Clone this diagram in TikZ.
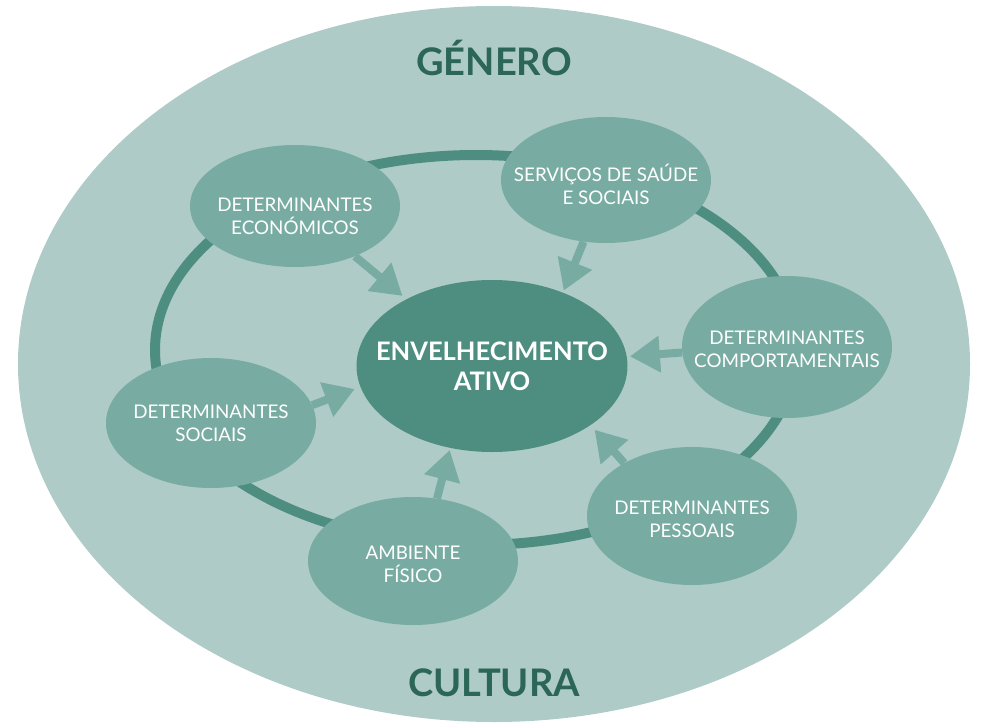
\documentclass[tikz,border=0pt]{standalone}
\usepackage{fontspec}
\setmainfont{Lato}
\usetikzlibrary{shapes.geometric,arrows.meta}
\definecolor{outerc}{HTML}{AECBC7}
\definecolor{satc}{HTML}{78ACA3}
\definecolor{centc}{HTML}{4E8E80}
\definecolor{titc}{HTML}{2B6656}
\begin{document}
\begin{tikzpicture}[x=1pt,y=-1pt,
  sat/.style={ellipse, fill=satc, inner sep=0pt, minimum width=210pt},
  lbl/.style={text=white, align=center, inner sep=0pt, font=\fontsize{18.8}{23}\selectfont},
  cent/.style={ellipse, fill=centc, inner sep=0pt, minimum width=271pt, minimum height=172pt},
  clbl/.style={text=white, align=center, inner sep=0pt, font=\fontsize{25.5}{30}\bfseries},
  title/.style={text=titc, font=\fontsize{38}{38}\bfseries},
  ringline/.style={draw=centc, line width=10pt},
  arr/.style={draw=satc, line width=8pt, -{Triangle[length=30pt,width=35pt]}}]
\useasboundingbox (0,0) rectangle (989,726);
\node[ellipse, fill=outerc, minimum width=952pt, minimum height=716pt, inner sep=0pt] (outer) at (494,364) {};
\draw[ringline] (476,350) ellipse [x radius=321pt, y radius=195pt];
\node[title] (gen) at (494,58) {GÉNERO};
\node[title] (cult) at (494,683) {CULTURA};
\node[sat, minimum height=122pt] (eco) at (295,206) {};
\node[sat, minimum height=126pt] (serv) at (606,180) {};
\node[sat, minimum height=142pt] (comp) at (787,347) {};
\node[sat, minimum height=130pt] (soc) at (211,423) {};
\node[sat, minimum height=128pt] (amb) at (413,561) {};
\node[sat, minimum height=138pt] (pes) at (692,516) {};
\node[lbl] (ecot) at ([yshift=-10pt]eco.center) {DETERMINANTES\\ECONÓMICOS};
\node[lbl] (servt) at ([yshift=-4pt]serv.center) {SERVIÇOS DE SAÚDE\\E SOCIAIS};
\node[lbl] (compt) at ([yshift=-2pt]comp.center) {DETERMINANTES\\COMPORTAMENTAIS};
\node[lbl] (soct) at (soc.center) {DETERMINANTES\\SOCIAIS};
\node[lbl] (ambt) at ([yshift=-3pt]amb.center) {AMBIENTE\\FÍSICO};
\node[lbl] (pest) at ([yshift=-3pt]pes.center) {DETERMINANTES\\PESSOAIS};
\node[cent] (center) at (492,366) {};
\node[clbl] (centt) at (center.center) {ENVELHECIMENTO\\ATIVO};
\draw[arr, shorten >=5pt] (eco.-40) -- (center.142);
\draw[arr, shorten >=2pt] (serv.-110) -- (center.46);
\draw[arr, shorten >=3pt] (comp.183) -- (center.4);
\draw[arr, shorten >=6pt] (soc.10) -- (center.189);
\draw[arr, shorten >=2pt] (amb.69) -- (center.243);
\draw[arr, shorten >=6pt] (pes.142) -- (center.-31);
\end{tikzpicture}
\end{document}
